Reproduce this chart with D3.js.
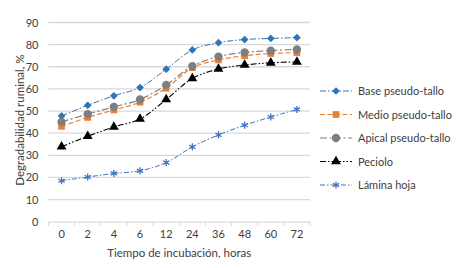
<!DOCTYPE html>
<html>
<head>
<meta charset="utf-8">
<script src="https://cdn.jsdelivr.net/npm/d3@7"></script>
<style>
  body { margin: 0; background: #fff; }
  svg text { font-family: Lato, "Open Sans", sans-serif; fill: #404040; }
</style>
</head>
<body>
<div id="chart"></div>
<script>
var horas = ["0", "2", "4", "6", "12", "24", "36", "48", "60", "72"];
var yTicks = [0, 10, 20, 30, 40, 50, 60, 70, 80, 90];

var basePseudo = [47.8, 52.6, 56.9, 60.6, 68.9, 77.6, 80.9, 82.3, 82.8, 83.2];
var medioPseudo = [43.1, 47.1, 50.5, 54.0, 60.3, 69.6, 73.1, 75.0, 76.0, 76.4];
var apicalPseudo = [45.1, 48.6, 51.9, 55.2, 61.8, 70.3, 74.6, 76.5, 77.3, 77.8];
var peciolo = [33.9, 38.6, 42.8, 46.4, 55.2, 64.7, 69.0, 70.8, 71.8, 72.2];
var laminaHoja = [18.5, 20.2, 21.8, 23.0, 26.7, 33.8, 39.2, 43.6, 47.3, 50.7];

var series = [
    { name: "Base pseudo-tallo", values: basePseudo, color: "#2e75b6", dash: "6,2,1.5,2", symbol: d3.symbolSquare, rot: 45, size: 30, width: 1 },
    { name: "Medio pseudo-tallo", values: medioPseudo, color: "#ed7d31", dash: "5,2.5", symbol: d3.symbolSquare, rot: 0, size: 45, width: 1.2 },
    { name: "Apical pseudo-tallo", values: apicalPseudo, color: "#7f7f7f", dash: "7,2.5,2,2.5", symbol: d3.symbolCircle, rot: 0, size: 55, width: 1.2 },
    { name: "Peciolo", values: peciolo, color: "#000000", dash: "6,2,1.5,2,1.5,2", symbol: d3.symbolTriangle, rot: 0, size: 42, width: 1.1 },
    { name: "Lámina hoja", values: laminaHoja, color: "#4472c4", dash: "5,2,1.5,2", symbol: d3.symbolAsterisk, rot: 0, size: 36, width: 1 }
];

var width = 466;
var height = 268;
var margin = { left: 48.5, right: 156, top: 22.5, bottom: 46.3 };

var svg = d3.select("#chart")
    .append("svg")
    .attr("width", width)
    .attr("height", height);

var x = d3.scaleBand()
    .domain(horas)
    .range([margin.left, width - margin.right]);

var y = d3.scaleLinear()
    .domain([0, 90])
    .range([height - margin.bottom, margin.top]);

// gridlines
svg.append("g")
    .selectAll("line")
    .data(yTicks.slice(1))
    .enter()
    .append("line")
    .attr("x1", margin.left)
    .attr("x2", width - margin.right)
    .attr("y1", function (d) { return y(d); })
    .attr("y2", function (d) { return y(d); })
    .attr("stroke", "#d9d9d9")
    .attr("stroke-width", 1.3);

// y axis labels
var yAxis = d3.axisLeft(y).tickValues(yTicks).tickSize(0).tickPadding(10);
var gy = svg.append("g")
    .attr("transform", "translate(" + margin.left + ",0)")
    .call(yAxis);
gy.select(".domain").remove();
gy.selectAll("text").style("font-size", "11px").attr("fill", "#595959");

// x axis
var xAxis = d3.axisBottom(x).tickSize(0).tickPadding(9);
var gx = svg.append("g")
    .attr("transform", "translate(0," + y(0) + ")")
    .call(xAxis);
gx.select(".domain").attr("stroke", "#d9d9d9").attr("stroke-width", 1.3);
gx.selectAll("text").style("font-size", "11px").attr("fill", "#595959");

var boundaries = horas.map(function (d) { return x(d); }).concat([x(horas[horas.length - 1]) + x.bandwidth()]);
gx.selectAll(".bt")
    .data(boundaries)
    .enter()
    .append("line")
    .attr("class", "bt")
    .attr("x1", function (d) { return d; })
    .attr("x2", function (d) { return d; })
    .attr("y1", 0)
    .attr("y2", 4)
    .attr("stroke", "#d9d9d9");

// axis titles
svg.append("text")
    .attr("x", (margin.left + width - margin.right) / 2)
    .attr("y", 257)
    .attr("text-anchor", "middle")
    .style("font-size", "11.5px")
    .text("Tiempo de incubación, horas");

svg.append("text")
    .attr("transform", "translate(24," + (y(45) - 2) + ") rotate(-90)")
    .attr("text-anchor", "middle")
    .style("font-size", "11.5px")
    .text("Degradabilidad ruminal, %");

var line = d3.line()
    .x(function (d, i) { return x(horas[i]) + x.bandwidth() / 2; })
    .y(function (d) { return y(d); })
    .curve(d3.curveCatmullRom.alpha(0.5));

function drawMarker(sel, s) {
    sel.attr("d", d3.symbol().type(s.symbol).size(s.size))
        .attr("fill", s.color)
        .attr("stroke", s.color)
        .attr("stroke-width", s.symbol === d3.symbolAsterisk ? 1.3 : 0);
}

series.forEach(function (s) {
    svg.append("path")
        .datum(s.values)
        .attr("d", line)
        .attr("fill", "none")
        .attr("stroke", s.color)
        .attr("stroke-width", s.width)
        .attr("stroke-dasharray", s.dash);

    svg.append("g")
        .selectAll("path")
        .data(s.values)
        .enter()
        .append("path")
        .attr("transform", function (d, i) {
            return "translate(" + (x(horas[i]) + x.bandwidth() / 2) + "," + y(d) + ") rotate(" + s.rot + ")";
        })
        .call(drawMarker, s);
});

// legend
var legend = svg.append("g");
series.forEach(function (s, i) {
    var ly = 91 + i * 23.5;
    legend.append("line")
        .attr("x1", 320)
        .attr("x2", 352)
        .attr("y1", ly)
        .attr("y2", ly)
        .attr("stroke", s.color)
        .attr("stroke-width", s.width)
        .attr("stroke-dasharray", s.dash);
    legend.append("path")
        .attr("transform", "translate(336," + ly + ") rotate(" + s.rot + ")")
        .call(drawMarker, s);
    legend.append("text")
        .attr("x", 358)
        .attr("y", ly + 4)
        .style("font-size", "11px")
        .text(s.name);
});
</script>
</body>
</html>
